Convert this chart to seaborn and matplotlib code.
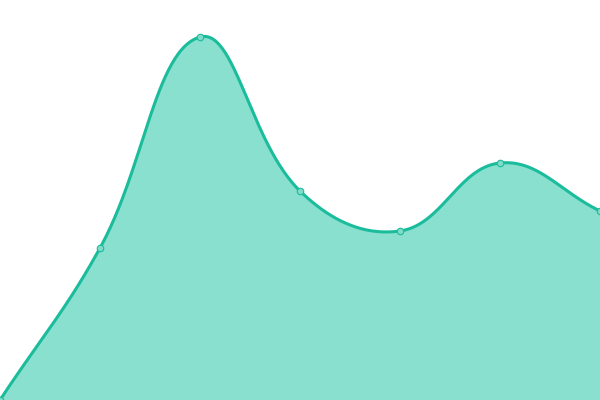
import matplotlib
matplotlib.use('Agg')
import matplotlib.pyplot as plt
import numpy as np
import pandas as pd
import seaborn as sns

# data
labels = ['A', 'B', 'C', 'D', 'E', 'F', 'G']
values = [0, 152, 363, 209, 169, 237, 189]

LINE = '#1abc9c'
FILL = '#8ae0cf'
POINT = '#7fdcc8'

sns.set_style('white')
fig = plt.figure(figsize=(6, 4), dpi=100)
ax = fig.add_axes([0, 0, 1, 1])
ax.set_xlim(0, len(labels) - 1)
ax.set_ylim(0, 400)
ax.axis('off')

# points in display space, spline with tension 0.4 (like chart.js)
xs = np.arange(len(labels))
pts = ax.transData.transform(np.column_stack([xs, values]))
t = 0.4
n = len(pts)
cp_prev, cp_next = [], []
for i in range(n):
    p0 = pts[max(i - 1, 0)]
    p1 = pts[i]
    p2 = pts[min(i + 1, n - 1)]
    d01 = np.hypot(*(p1 - p0))
    d12 = np.hypot(*(p2 - p1))
    tot = d01 + d12
    s01 = d01 / tot if tot else 0
    s12 = d12 / tot if tot else 0
    cp_prev.append(p1 - t * s01 * (p2 - p0))
    cp_next.append(p1 + t * s12 * (p2 - p0))

curve = []
u = np.linspace(0, 1, 60)[:, None]
for i in range(n - 1):
    a, b, c, d = pts[i], cp_next[i], cp_prev[i + 1], pts[i + 1]
    seg = (1 - u) ** 3 * a + 3 * (1 - u) ** 2 * u * b + 3 * (1 - u) * u ** 2 * c + u ** 3 * d
    curve.append(seg if i == 0 else seg[1:])
curve = ax.transData.inverted().transform(np.vstack(curve))
smooth = pd.DataFrame({'x': curve[:, 0], 'y': np.clip(curve[:, 1], 0, 400)})

ax.fill_between(smooth['x'], smooth['y'], 0, color=FILL, lw=0, zorder=1)
sns.lineplot(data=smooth, x='x', y='y', sort=False, color=LINE, lw=2.2, ax=ax, zorder=2)
sns.scatterplot(x=xs, y=values, s=22, color=POINT, edgecolor=LINE, linewidth=0.8, ax=ax, zorder=3, clip_on=False)
ax.set_xlim(0, len(labels) - 1)
ax.set_ylim(0, 400)
ax.axis('off')

plt.savefig('out.png', dpi=100)
